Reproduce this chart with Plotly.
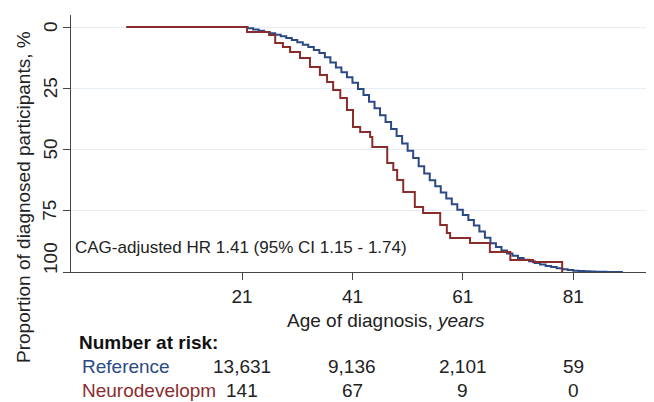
import plotly.graph_objects as go

# Reference group: cumulative proportion diagnosed (%) by age
ref_age = list(range(21, 91))
ref_pct = [0, 0.5, 1.0, 1.5, 2.0, 2.6, 3.2, 3.8, 4.5, 5.3,
           6.2, 7.2, 8.2, 9.4, 10.6, 12.3, 14.5, 16.5, 18.5, 20.5,
           22.8, 25.3, 27.8, 30.5, 33.2, 36.0, 38.8, 41.6, 44.5, 47.5,
           50.5, 53.5, 56.8, 59.8, 62.5, 65.0, 67.5, 70.0, 72.3, 74.6,
           76.7, 78.8, 81.0, 83.5, 86.0, 88.3, 89.8, 91.2, 92.4, 93.4,
           94.3, 95.0, 95.6, 96.3, 96.9, 97.5, 98.0, 98.5, 98.9, 99.2,
           99.5, 99.6, 99.7, 99.8, 99.85, 99.9, 99.95, 100, 100, 100]

# Neurodevelopmental group: step events
nd_age = [0, 21.9, 25.9, 27.0, 28.4, 29.7, 31.5, 33.3, 35.1, 36.4, 37.5, 38.8,
          40.0, 41.1, 42.4, 44.2, 44.6, 47.3, 48.4, 49.1, 50.2, 52.3, 53.8,
          56.9, 58.1, 58.7, 62.3, 65.9, 69.6, 73.7, 79.0]
nd_pct = [0, 2.0, 3.3, 6.5, 8.2, 10.2, 12.7, 16.3, 19.6, 22.4, 25.7, 29.0,
          33.9, 40.8, 42.9, 44.9, 49.0, 55.5, 58.4, 62.4, 67.3, 73.5, 75.9,
          80.8, 84.1, 86.1, 88.2, 91.8, 95.1, 95.9, 100]

x_ticks = [21, 41, 61, 81]
y_ticks = [0, 25, 50, 75, 100]
risk_ref = ["13,631", "9,136", "2,101", "59"]
risk_nd = ["141", "67", "9", "0"]

BLUE = "#2b4a85"
RED = "#8b2c2c"
FONT = "Liberation Sans, Arial, sans-serif"
FS = 19

fig = go.Figure()
fig.add_trace(go.Scatter(x=ref_age, y=ref_pct, mode="lines", line_shape="hv",
                         line=dict(color=BLUE, width=2), name="Reference"))
fig.add_trace(go.Scatter(x=nd_age, y=nd_pct, mode="lines", line_shape="hv",
                         line=dict(color=RED, width=2), name="Neurodevelopm"))

# page body has an 8px margin; compensate so the plot lands where the reference has it
fig.update_layout(
    width=654, height=402,
    margin=dict(l=63, r=8, t=7, b=138),
    paper_bgcolor="white", plot_bgcolor="white",
    showlegend=False,
    font=dict(family=FONT, size=FS, color="#222"),
    xaxis=dict(range=[-10, 95.64], tickvals=x_ticks, ticks="outside", ticklen=7,
               tickcolor="#444", showline=True, linecolor="#444", linewidth=1.2,
               showgrid=False, zeroline=False, tickfont=dict(size=FS, color="#222")),
    yaxis=dict(range=[100, -4.9], tickvals=y_ticks, ticks="outside", ticklen=7,
               tickcolor="#444", showline=True, linecolor="#444", linewidth=1.2,
               showgrid=True, gridcolor="#e6edf5", gridwidth=1.2,
               zeroline=False, showticklabels=False),
)

ann = []
# y tick labels (rotated)
for v in y_ticks:
    ann.append(dict(x=0, xref="paper", y=v, yref="y", text=str(v), showarrow=False,
                    textangle=-90, xanchor="center", yanchor="middle", xshift=-21,
                    yshift=(14 if v == 100 else 0),
                    font=dict(size=FS, color="#222")))
# y title
ann.append(dict(x=0, xref="paper", y=0, yref="paper", text="Proportion of diagnosed participants, %",
                showarrow=False, textangle=-90, xanchor="center", yanchor="middle",
                xshift=-48, yshift=272 - 197, font=dict(size=FS, color="#222")))
# x title
ann.append(dict(x=47, xref="x", y=0, yref="paper", text="Age of diagnosis, <i>years</i>",
                showarrow=False, xanchor="center", yanchor="middle", yshift=-(320 - 272),
                font=dict(size=FS, color="#222")))
# HR annotation
ann.append(dict(x=-9, xref="x", y=90, yref="y", text="CAG-adjusted HR 1.41 (95% CI 1.15 - 1.74)",
                showarrow=False, xanchor="left", yanchor="middle", xshift=-4,
                font=dict(size=17, color="#222")))
# Number at risk
ann.append(dict(x=0, xref="paper", y=0, yref="paper", text="<b>Number at risk:</b>",
                showarrow=False, xanchor="left", yanchor="middle", xshift=6, yshift=-(342 - 272),
                font=dict(size=FS, color="#111")))
ann.append(dict(x=0, xref="paper", y=0, yref="paper", text="Reference",
                showarrow=False, xanchor="left", yanchor="middle", xshift=9, yshift=-(366 - 272),
                font=dict(size=FS, color=BLUE)))
ann.append(dict(x=0, xref="paper", y=0, yref="paper", text="Neurodevelopm",
                showarrow=False, xanchor="left", yanchor="middle", xshift=9, yshift=-(390 - 272),
                font=dict(size=FS, color=RED)))
for xv, r1, r2 in zip(x_ticks, risk_ref, risk_nd):
    ann.append(dict(x=xv, xref="x", y=0, yref="paper", text=r1, showarrow=False,
                    xanchor="center", yanchor="middle", yshift=-(366 - 272),
                    font=dict(size=FS, color="#222")))
    ann.append(dict(x=xv, xref="x", y=0, yref="paper", text=r2, showarrow=False,
                    xanchor="center", yanchor="middle", yshift=-(390 - 272),
                    font=dict(size=FS, color="#222")))

fig.update_layout(annotations=ann)
fig.write_html("out.html")
